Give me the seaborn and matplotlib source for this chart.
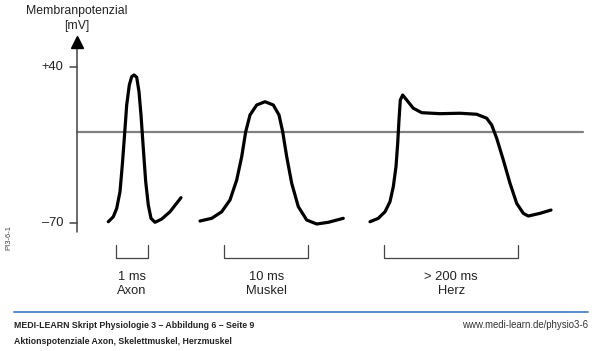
import matplotlib
matplotlib.use("Agg")
import matplotlib.pyplot as plt
import seaborn as sns
import pandas as pd
import numpy as np

# ---- data (schematic time units, membrane potential in mV) ----
axon_t = [108.3, 113.3, 116.7, 120.0, 122.3, 124.3, 126.7, 129.3, 131.7, 134.0, 136.7,
          139.0, 141.0, 143.3, 145.7, 148.3, 151.0, 155.0, 161.7, 170.0, 181.0]
axon_mv = [-68.9, -65.4, -59.5, -47.8, -29.1, -10.3, 13.1, 27.1, 33.0, 34.2, 32.6,
           22.4, 6.1, -17.3, -40.8, -57.2, -66.5, -69.3, -67.0, -61.9, -52.0]

muskel_t = [200.0, 211.7, 221.7, 230.0, 236.7, 241.7, 245.7, 250.0, 256.7, 265.0, 273.3,
            279.0, 282.7, 286.7, 291.7, 298.3, 306.7, 316.7, 328.3, 343.3]
muskel_mv = [-68.4, -66.5, -61.9, -53.6, -39.6, -23.2, -5.7, 6.1, 13.1, 15.4, 13.1,
             6.1, -5.7, -23.2, -41.9, -58.3, -67.7, -70.5, -69.3, -66.5]

herz_t = [370.0, 378.3, 385.0, 390.0, 393.3, 396.0, 397.7, 399.0, 400.3, 402.7, 406.7,
          413.3, 421.7, 440.0, 460.0, 476.7, 486.7, 491.7, 496.7, 503.3, 510.0, 516.7,
          523.3, 528.3, 540.0, 551.0]
herz_mv = [-68.9, -66.5, -61.9, -54.8, -44.3, -30.2, -13.8, 2.6, 16.6, 20.1, 16.6,
           10.8, 7.7, 7.0, 7.3, 6.6, 3.8, -1.0, -10.3, -25.5, -41.9, -56.0,
           -63.0, -64.9, -63.0, -60.7]

baseline_mv = -5.7
tick_values = [40, -70]
tick_labels = ["+40", "\u201370"]

bracket_names = ["Axon", "Muskel", "Herz"]
bracket_durations = ["1 ms", "10 ms", "> 200 ms"]
bracket_start = [116.0, 224.0, 384.3]
bracket_end = [148.3, 308.3, 518.3]

title_lines = ["Membranpotenzial", "[mV]"]
footer_1 = "MEDI-LEARN Skript Physiologie 3 \u2013 Abbildung 6 \u2013 Seite 9"
footer_2 = "Aktionspotenziale Axon, Skelettmuskel, Herzmuskel"
footer_url = "www.medi-learn.de/physio3-6"
side_code = "PI3-6-1"

df = pd.concat([
    pd.DataFrame({"t": axon_t, "mV": axon_mv, "kurve": "Axon"}),
    pd.DataFrame({"t": muskel_t, "mV": muskel_mv, "kurve": "Muskel"}),
    pd.DataFrame({"t": herz_t, "mV": herz_mv, "kurve": "Herz"}),
], ignore_index=True)

sns.set_theme(style="white")
plt.rcParams["font.family"] = ["Liberation Sans Narrow", "Liberation Sans", "DejaVu Sans"]

W, H = 600, 351
fig = plt.figure(figsize=(6.0, 3.51), dpi=100)
ax = fig.add_axes([0, 0, 1, 1])
ax.set_xlim(0, 600)
ax.set_ylim(-159.7, 86.85)
ax.axis("off")

txt = "#222222"

# baseline (0 line)
ax.plot([76.7, 583], [baseline_mv, baseline_mv], color="#808080", lw=1.6, zorder=1)

# curves
for name in ["Axon", "Muskel", "Herz"]:
    sub = df[df["kurve"] == name]
    sns.lineplot(data=sub, x="t", y="mV", sort=False, estimator=None, color="black",
                 lw=2.3, ax=ax, legend=False, zorder=3)
for l in ax.lines:
    l.set_solid_joinstyle("round")
    l.set_solid_capstyle("round")
ax.set_xlabel("")
ax.set_ylabel("")

# y axis with arrow
ax.plot([76.7, 76.7], [-76.1, 56.0], color="#444444", lw=1.1, zorder=2)
ax.plot([76.7], [57.5], marker="^", ms=8, color="black", mec="black", zorder=2)
for v, lab in zip(tick_values, tick_labels):
    ax.plot([69.5, 76.7], [v, v], color="#444444", lw=1.1)
    ax.text(63, v, lab, ha="right", va="center", fontsize=9.3, color=txt)

fig.text(76.7 / W, 1 - 11 / H, title_lines[0], ha="center", va="center", fontsize=8.8, color=txt)
fig.text(76.7 / W, 1 - 26 / H, title_lines[1], ha="center", va="center", fontsize=8.8, color=txt)

# brackets and labels
for s, e, d, n in zip(bracket_start, bracket_end, bracket_durations, bracket_names):
    ax.plot([s, s, e, e], [-85.2, -94.2, -94.2, -85.2], color="#444444", lw=0.9)
    c = (s + e) / 2
    fig.text(c / W, 1 - 277.5 / H, d, ha="center", va="center", fontsize=9.3, color=txt)
    fig.text(c / W, 1 - 291.0 / H, n, ha="center", va="center", fontsize=9.3, color=txt)

fig.text(9 / W, 1 - 238 / H, side_code, rotation=90, ha="center", va="center",
         fontsize=5.5, color="#444444")

# footer
fig.add_artist(plt.Line2D([14 / W, 588 / W], [1 - 312 / H, 1 - 312 / H],
                          transform=fig.transFigure, color="#4f81c7", lw=1.3))
fig.text(14 / W, 1 - 325 / H, footer_1, ha="left", va="center", fontsize=6.3,
         fontweight="bold", color=txt)
fig.text(14 / W, 1 - 342 / H, footer_2, ha="left", va="center", fontsize=6.3,
         fontweight="bold", color=txt)
fig.text(588 / W, 1 - 325 / H, footer_url, ha="right", va="center", fontsize=6.9,
         color="#333333")

fig.savefig("out.png", dpi=100)
